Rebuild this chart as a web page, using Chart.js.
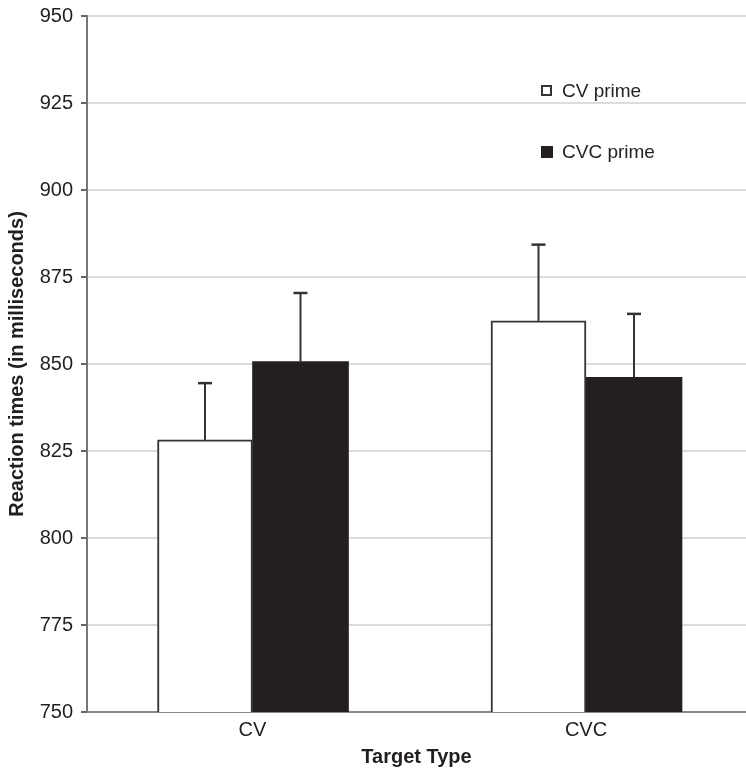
<!DOCTYPE html>
<html>
<head>
<meta charset="utf-8">
<script src="https://cdn.jsdelivr.net/npm/chart.js@4"></script>
<style>
  html, body { margin: 0; padding: 0; background: #ffffff; }
  #wrap { width: 746px; height: 769px; position: relative; }
</style>
</head>
<body>
<div id="wrap"><canvas id="c" width="746" height="769"></canvas></div>
<script>
// ---- data ----
const categories = ['CV', 'CVC'];
const seriesNames = ['CV prime', 'CVC prime'];
const cvPrime = [828.2, 862.4];
const cvcPrime = [850.7, 846.2];
const cvPrimeErr = [16.3, 21.9];
const cvcPrimeErr = [19.7, 18.2];
const yTicks = [750, 775, 800, 825, 850, 875, 900, 925, 950];

const TEXT = '#231f20';
const FONT = '"Liberation Sans", Arial, sans-serif';

const toPoints = arr => arr.map((v, i) => ({ x: i, y: v }));

const errorBars = {
  id: 'errorBars',
  afterDatasetsDraw(chart) {
    const ctx = chart.ctx;
    const yScale = chart.scales.y;
    chart.data.datasets.forEach((ds, di) => {
      const meta = chart.getDatasetMeta(di);
      meta.data.forEach((bar, i) => {
        const v = ds.data[i].y;
        const e = ds.errors[i];
        const yTop = yScale.getPixelForValue(v + e);
        const yBase = yScale.getPixelForValue(v);
        ctx.save();
        ctx.strokeStyle = '#333333';
        ctx.lineWidth = 2;
        ctx.beginPath();
        ctx.moveTo(bar.x, yBase);
        ctx.lineTo(bar.x, yTop);
        ctx.stroke();
        ctx.lineWidth = 2.5;
        ctx.beginPath();
        ctx.moveTo(bar.x - 7, yTop);
        ctx.lineTo(bar.x + 7, yTop);
        ctx.stroke();
        ctx.restore();
      });
    });
  }
};

const customLegend = {
  id: 'customLegend',
  afterDraw(chart) {
    const ctx = chart.ctx;
    const items = chart.data.datasets;
    const x0 = 541, ys = [85, 146];
    ctx.save();
    items.forEach((ds, i) => {
      const y = ys[i];
      if (i === 0) {
        ctx.fillStyle = '#ffffff';
        ctx.fillRect(x0, y, 11, 11);
        ctx.strokeStyle = '#333333';
        ctx.lineWidth = 2;
        ctx.strokeRect(x0 + 1, y + 1, 9, 9);
      } else {
        ctx.fillStyle = '#231f20';
        ctx.fillRect(x0, y, 12, 12);
      }
      ctx.fillStyle = TEXT;
      ctx.font = '19px ' + FONT;
      ctx.textBaseline = 'alphabetic';
      ctx.textAlign = 'left';
      ctx.fillText(ds.label, 562, y + 12);
    });
    ctx.restore();
  }
};

new Chart(document.getElementById('c'), {
  type: 'bar',
  data: {
    datasets: [
      {
        label: seriesNames[0],
        data: toPoints(cvPrime),
        errors: cvPrimeErr,
        backgroundColor: '#ffffff',
        borderColor: '#333333',
        borderWidth: 2,
        barThickness: 95
      },
      {
        label: seriesNames[1],
        data: toPoints(cvcPrime),
        errors: cvcPrimeErr,
        backgroundColor: '#231f20',
        borderColor: '#231f20',
        borderWidth: 0,
        barThickness: 96
      }
    ]
  },
  options: {
    responsive: false,
    animation: false,
    devicePixelRatio: 1,
    layout: { padding: { top: 16, right: 0, bottom: 0, left: 0 } },
    plugins: {
      legend: { display: false },
      tooltip: { enabled: false }
    },
    scales: {
      x: {
        type: 'linear',
        offset: false,
        min: -0.4963,
        max: 1.4798,
        afterBuildTicks(scale) {
          scale.ticks = categories.map((c, i) => ({ value: i }));
        },
        afterFit(scale) { scale.height = 57; },
        grid: { display: false, offset: false },
        border: { display: true, color: '#888888', width: 2 },
        ticks: {
          padding: -2,
          color: TEXT,
          font: { family: FONT, size: 20 },
          callback: (v) => categories[v] !== undefined ? categories[v] : ''
        },
        title: {
          display: true,
          text: 'Target Type',
          color: TEXT,
          font: { family: FONT, size: 20, weight: 'bold' },
          padding: { top: 0, bottom: 0 }
        }
      },
      y: {
        min: 750,
        max: 950,
        afterBuildTicks(scale) {
          scale.ticks = yTicks.map(v => ({ value: v }));
        },
        afterFit(scale) {
          scale.width = 87;
          scale.paddingTop = 0;
          scale.paddingBottom = 0;
        },
        grid: {
          color: '#dcdcdc',
          lineWidth: 2,
          tickColor: '#666666',
          tickLength: 6,
          tickWidth: 2
        },
        border: { display: true, color: '#777777', width: 2 },
        ticks: {
          padding: 8,
          color: TEXT,
          font: { family: FONT, size: 20 }
        },
        title: {
          display: true,
          text: 'Reaction times (in milliseconds)',
          color: TEXT,
          font: { family: FONT, size: 20, weight: 'bold' },
          padding: { top: 5, bottom: 0 }
        }
      }
    }
  },
  plugins: [errorBars, customLegend]
});
</script>
</body>
</html>
